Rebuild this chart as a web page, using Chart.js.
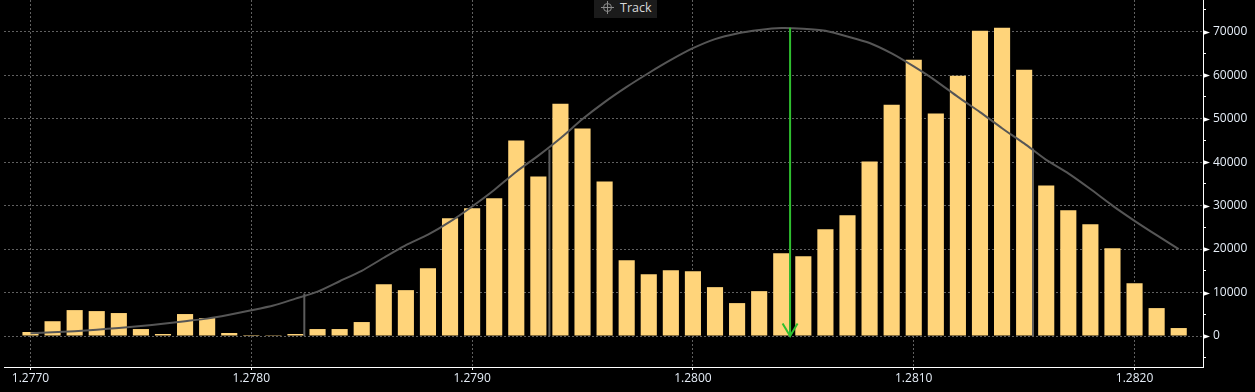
<!DOCTYPE html>
<html>
<head>
<meta charset="utf-8">
<script src="https://cdn.jsdelivr.net/npm/chart.js@4.4.0/dist/chart.umd.min.js"></script>
<style>
  html, body { margin: 0; padding: 0; background: #000; }
  #wrap { position: relative; width: 1255px; height: 392px; }
  #legend {
    position: absolute; left: 594px; top: 0; width: 63px; height: 18px;
    background: #1b1b1b; color: #d8d8d8;
    font: 12.5px "Open Sans", sans-serif; line-height: 16px;
  }
  #legend svg { position: absolute; left: 7px; top: 1px; }
  #legend span { position: absolute; left: 26px; top: 0; }
</style>
</head>
<body>
<div id="wrap">
  <canvas id="histo" width="1255" height="392"></canvas>
  <div id="legend">
    <svg width="14" height="14" viewBox="0 0 14 14">
      <circle cx="6.5" cy="6.5" r="4" fill="none" stroke="#8a8a8a" stroke-width="1"/>
      <line x1="6.5" y1="0" x2="6.5" y2="13" stroke="#8a8a8a" stroke-width="1"/>
      <line x1="0" y1="6.5" x2="13" y2="6.5" stroke="#8a8a8a" stroke-width="1"/>
    </svg>
    <span>Track</span>
  </div>
</div>
<script>
// price levels (one bar per 0.0001)
const prices = [
  1.2770, 1.2771, 1.2772, 1.2773, 1.2774, 1.2775, 1.2776, 1.2777, 1.2778, 1.2779,
  1.2780, 1.2781, 1.2782, 1.2783, 1.2784, 1.2785, 1.2786, 1.2787, 1.2788, 1.2789,
  1.2790, 1.2791, 1.2792, 1.2793, 1.2794, 1.2795, 1.2796, 1.2797, 1.2798, 1.2799,
  1.2800, 1.2801, 1.2802, 1.2803, 1.2804, 1.2805, 1.2806, 1.2807, 1.2808, 1.2809,
  1.2810, 1.2811, 1.2812, 1.2813, 1.2814, 1.2815, 1.2816, 1.2817, 1.2818, 1.2819,
  1.2820, 1.2821, 1.2822
];
// volume at each price
const volume = [
  920, 3400, 5960, 5730, 5280, 1600, 460, 5050, 4130, 690,
  230, 200, 460, 1600, 1600, 3210, 11930, 10550, 15600, 27070,
  29360, 31660, 44960, 36700, 53450, 47720, 35560, 17430, 14220, 15140,
  14910, 11240, 7570, 10320, 19040, 18350, 24550, 27760, 40150, 53220,
  63540, 51160, 59870, 70200, 70880, 61250, 34640, 28900, 25690, 20190,
  12160, 6420, 1830
];
// "Track" curve
const track = [
  620, 850, 1100, 1450, 1850, 2300, 2800, 3400, 4000, 4900,
  5900, 7000, 8600, 10200, 12600, 15000, 18000, 20900, 23300, 26300,
  29800, 33600, 37800, 41500, 45500, 49900, 53800, 57300, 60500, 63500,
  66200, 68300, 69600, 70400, 70850, 70700, 70200, 68900, 67400, 65000,
  62000, 58700, 55000, 51500, 47800, 44300, 40500, 37400, 33800, 30000,
  26500, 23200, 20000
];
const xTicks = [1.2770, 1.2780, 1.2790, 1.2800, 1.2810, 1.2820];
const yTicks = [-5000, 0, 5000, 10000, 15000, 20000, 25000, 30000, 35000,
  40000, 45000, 50000, 55000, 60000, 65000, 70000, 75000];
// vertical markers: [price, height]
const lowMark = [1.27824, 9800];
const midMark = [1.27935, 42900];
const highMark = [1.28154, 43130];
const pocMark = [1.28044, 70900];

const tickFont = { family: '"Open Sans", sans-serif', size: 12 };
const tickColor = '#e6eef8';
const gridColor = '#606060';
const green = '#2fbf2f';

function vline(m, color) {
  return {
    type: 'line',
    data: [{ x: m[0], y: 0 }, { x: m[0], y: m[1] }],
    borderColor: color,
    borderWidth: 2,
    pointRadius: 0,
    order: 1
  };
}

const extras = {
  id: 'extras',
  afterDatasetsDraw(chart) {
    const { ctx, scales: { x, y } } = chart;
    const px = x.getPixelForValue(pocMark[0]);
    const py = y.getPixelForValue(0);
    ctx.save();
    ctx.strokeStyle = green;
    ctx.lineWidth = 2;
    ctx.beginPath();
    ctx.moveTo(px - 7.5, py - 12.5);
    ctx.lineTo(px, py);
    ctx.lineTo(px + 7.5, py - 12.5);
    ctx.stroke();
    ctx.restore();
  },
  afterDraw(chart) {
    // little white arrows on the major y ticks
    const { ctx, scales: { y } } = chart;
    ctx.save();
    ctx.fillStyle = '#ffffff';
    y.ticks.forEach(t => {
      if (t.value % 10000 !== 0) return;
      const ty = Math.round(y.getPixelForValue(t.value)) + 0.5;
      ctx.beginPath();
      ctx.moveTo(y.left, ty - 2.5);
      ctx.lineTo(y.left + 7, ty);
      ctx.lineTo(y.left, ty + 2.5);
      ctx.closePath();
      ctx.fill();
    });
    ctx.restore();
  }
};

new Chart(document.getElementById('histo').getContext('2d'), {
  type: 'bar',
  data: {
    datasets: [
      {
        type: 'line',
        label: 'Track',
        data: prices.map((p, i) => ({ x: p, y: track[i] })),
        borderColor: '#565656',
        borderWidth: 2,
        pointRadius: 0,
        tension: 0.2,
        order: 2
      },
      vline(lowMark, '#5c5c5c'),
      vline(midMark, '#5c5c5c'),
      vline(highMark, '#5c5c5c'),
      vline(pocMark, green),
      {
        label: 'Volume',
        data: prices.map((p, i) => ({ x: p, y: volume[i] })),
        backgroundColor: 'rgb(255, 212, 122)',
        borderWidth: 0,
        barPercentage: 0.73,
        categoryPercentage: 1.0,
        order: 3
      }
    ]
  },
  options: {
    responsive: false,
    animation: false,
    layout: { padding: { left: 4, top: 0, right: 0, bottom: 0 } },
    plugins: {
      legend: { display: false },
      tooltip: { enabled: false }
    },
    scales: {
      x: {
        type: 'linear',
        offset: false,
        min: 1.27688,
        max: 1.28231,
        afterBuildTicks: s => { s.ticks = xTicks.map(v => ({ value: v })); },
        ticks: {
          autoSkip: false,
          maxRotation: 0,
          padding: 1,
          color: tickColor,
          font: tickFont,
          callback: v => v.toFixed(4)
        },
        grid: { offset: false, color: gridColor, tickColor: '#ffffff', tickLength: 3 },
        border: { color: '#ffffff', width: 1, dash: [2, 2] },
        afterFit: s => { s.height = 25; s.paddingLeft = 0; s.paddingRight = 0; }
      },
      y: {
        position: 'right',
        min: -7130,
        max: 77290,
        afterBuildTicks: s => { s.ticks = yTicks.map(v => ({ value: v })); },
        ticks: {
          autoSkip: false,
          padding: 7,
          color: tickColor,
          font: tickFont,
          callback: v => (v % 10000 === 0 ? String(v) : '')
        },
        grid: {
          color: c => (c.tick && c.tick.value % 10000 === 0 ? gridColor : 'rgba(0,0,0,0)'),
          tickColor: '#ffffff',
          tickLength: 3
        },
        border: { color: '#ffffff', width: 1, dash: [2, 2] },
        afterFit: s => { s.width = 52; s.paddingTop = 0; s.paddingBottom = 0; }
      }
    }
  },
  plugins: [extras]
});
</script>
</body>
</html>
